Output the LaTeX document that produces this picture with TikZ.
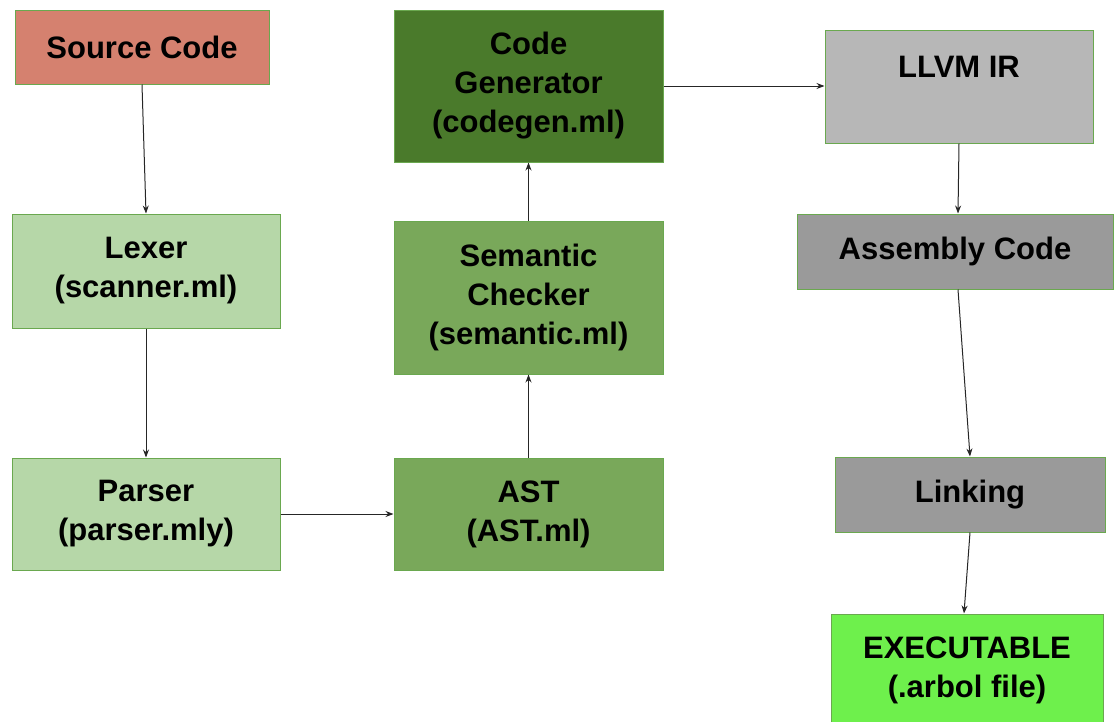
\documentclass[tikz,border=0pt]{standalone}
\usepackage{fontspec}
\setmainfont{Liberation Sans}
\usetikzlibrary{arrows.meta}
\definecolor{srcred}{HTML}{D5816F}
\definecolor{lightgreen}{HTML}{B6D7A8}
\definecolor{midgreen}{HTML}{79A85A}
\definecolor{darkgreen}{HTML}{4A7A2B}
\definecolor{lightgray}{HTML}{B7B7B7}
\definecolor{midgray}{HTML}{9A9A9A}
\definecolor{brightgreen}{HTML}{6EF04C}
\definecolor{edge}{HTML}{6AA84F}
\tikzset{
  box/.style={draw=edge, line width=1pt, rectangle, align=center, inner sep=0pt,
    font=\fontsize{31}{39}\selectfont\bfseries, text=black},
  conn/.style={draw=black!85, line width=1pt, -{Stealth[length=8pt,width=6pt]}}
}
\begin{document}
\begin{tikzpicture}[x=1pt,y=-1pt]
\useasboundingbox (0,0) rectangle (1117,721);
\node[box, fill=srcred, minimum width=254pt, minimum height=74pt] (src) at (142,47) {Source Code};
\node[box, fill=lightgreen, minimum width=268pt, minimum height=114pt] (lexer) at (146,271) {Lexer\\(scanner.ml)};
\node[box, fill=lightgreen, minimum width=268pt, minimum height=112pt] (parser) at (146,514) {Parser\\(parser.mly)};
\node[box, fill=midgreen, minimum width=269pt, minimum height=112pt] (ast) at (528.5,514) {AST\\(AST.ml)};
\node[box, fill=midgreen, minimum width=269pt, minimum height=153pt] (sem) at (528.5,297.5) {Semantic\\Checker\\(semantic.ml)};
\node[box, fill=darkgreen, minimum width=269pt, minimum height=152pt] (gen) at (528.5,86) {Code\\Generator\\(codegen.ml)};
\node[box, fill=lightgray, minimum width=268pt, minimum height=113pt] (llvm) at (959,86.5) {LLVM IR\\\mbox{}};
\node[box, fill=midgray, minimum width=316pt, minimum height=75pt] (asm) at (955,251.5) {Assembly Code};
\node[box, fill=midgray, minimum width=270pt, minimum height=75pt] (link) at (970,494.5) {Linking};
\node[box, fill=brightgreen, minimum width=272pt, minimum height=112pt] (exe) at (967,670) {EXECUTABLE\\(.arbol file)};
\draw[conn] (src.south) -- (lexer.north);
\draw[conn] (lexer.south) -- (parser.north);
\draw[conn] (parser.east) -- (ast.west);
\draw[conn] (ast.north) -- (sem.south);
\draw[conn] (sem.north) -- (gen.south);
\draw[conn] (gen.east) -- (gen.east -| llvm.west);
\draw[conn] (llvm.south) -- ([xshift=3pt]asm.north);
\draw[conn] ([xshift=3pt]asm.south) -- (link.north);
\draw[conn] (link.south) -- ([xshift=-3pt]exe.north);
\end{tikzpicture}
\end{document}
